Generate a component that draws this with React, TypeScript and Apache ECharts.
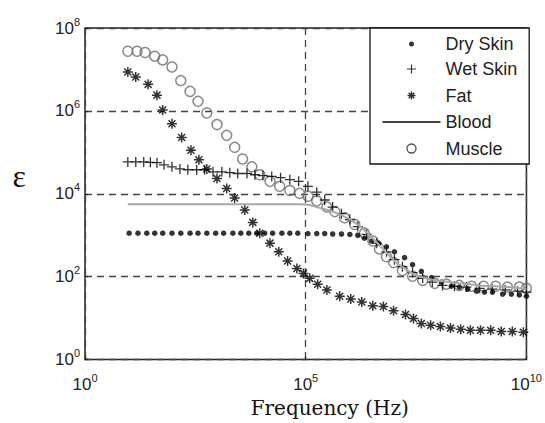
import React, { useEffect, useRef } from "react";
import * as echarts from "echarts";

// log10(frequency / Hz) and log10(permittivity)
const dryLogF = [1.0, 1.2, 1.4, 1.58, 1.76, 1.97, 2.17, 2.38, 2.56, 2.76, 2.96, 3.14, 3.35, 3.53, 3.71, 3.89, 4.07, 4.25, 4.46, 4.64, 4.82, 5.05, 5.25, 5.43, 5.61, 5.81, 6.0, 6.18, 6.33, 6.49, 6.65, 6.83, 7.01, 7.24, 7.42, 7.62, 7.85, 8.08, 8.3, 8.48, 8.67, 8.87, 9.05, 9.23, 9.46, 9.66, 9.84, 10.0];
const dryLogEps = [3.05, 3.05, 3.05, 3.05, 3.05, 3.05, 3.05, 3.05, 3.05, 3.05, 3.05, 3.05, 3.05, 3.05, 3.05, 3.05, 3.05, 3.05, 3.05, 3.05, 3.05, 3.04, 3.04, 3.04, 3.03, 3.03, 3.02, 3.0, 2.93, 2.86, 2.81, 2.72, 2.6, 2.46, 2.29, 2.13, 1.98, 1.87, 1.77, 1.75, 1.7, 1.65, 1.63, 1.63, 1.58, 1.58, 1.56, 1.53];

const wetLogF = [0.97, 1.15, 1.33, 1.48, 1.63, 1.79, 1.97, 2.15, 2.33, 2.53, 2.71, 2.9, 3.1, 3.28, 3.46, 3.67, 3.85, 4.03, 4.23, 4.43, 4.64, 4.84, 5.05, 5.25, 5.43, 5.61, 5.81, 6.0, 6.18, 6.38, 6.61, 6.83, 7.01, 7.19, 7.42, 7.65, 7.87, 8.1, 8.37, 8.64, 8.94, 9.23, 9.52, 9.8, 10.0];
const wetLogEps = [4.77, 4.77, 4.77, 4.76, 4.75, 4.7, 4.65, 4.6, 4.58, 4.58, 4.58, 4.53, 4.53, 4.51, 4.49, 4.49, 4.46, 4.44, 4.42, 4.39, 4.34, 4.3, 4.18, 4.04, 3.85, 3.68, 3.52, 3.38, 3.21, 3.02, 2.81, 2.6, 2.41, 2.24, 2.1, 1.96, 1.87, 1.79, 1.77, 1.75, 1.72, 1.7, 1.68, 1.65, 1.63];

const fatLogF = [0.97, 1.15, 1.43, 1.63, 1.76, 1.97, 2.19, 2.4, 2.58, 2.76, 2.99, 3.21, 3.39, 3.62, 3.8, 3.96, 4.19, 4.39, 4.59, 4.8, 4.95, 5.09, 5.27, 5.48, 5.77, 6.02, 6.27, 6.52, 6.76, 6.99, 7.26, 7.44, 7.62, 7.83, 8.05, 8.28, 8.51, 8.73, 8.96, 9.19, 9.43, 9.68, 9.93];
const fatLogEps = [6.94, 6.82, 6.64, 6.38, 6.02, 5.69, 5.36, 5.05, 4.82, 4.6, 4.37, 4.13, 3.9, 3.61, 3.31, 3.05, 2.81, 2.6, 2.38, 2.2, 2.08, 1.96, 1.82, 1.68, 1.53, 1.46, 1.39, 1.3, 1.28, 1.18, 1.09, 0.99, 0.87, 0.83, 0.8, 0.76, 0.73, 0.71, 0.71, 0.71, 0.68, 0.68, 0.66];

const bloodLogF = [0.97, 4.86, 5.09, 5.32, 5.61, 5.88, 6.11, 6.33, 6.56, 6.79, 7.01, 7.24, 7.47, 7.81, 8.26, 8.94, 9.62, 10.0];
const bloodLogEps = [3.75, 3.75, 3.73, 3.66, 3.57, 3.45, 3.31, 3.12, 2.88, 2.62, 2.38, 2.2, 2.05, 1.94, 1.87, 1.79, 1.75, 1.7];

const muscleLogF = [0.97, 1.18, 1.36, 1.58, 1.76, 1.97, 2.17, 2.38, 2.56, 2.76, 2.99, 3.21, 3.39, 3.57, 3.78, 3.96, 4.19, 4.41, 4.64, 4.86, 5.05, 5.25, 5.48, 5.66, 5.88, 6.11, 6.33, 6.52, 6.67, 6.83, 6.99, 7.19, 7.42, 7.65, 7.92, 8.19, 8.48, 8.76, 9.03, 9.3, 9.57, 9.84, 10.0];
const muscleLogEps = [7.44, 7.44, 7.41, 7.32, 7.23, 7.06, 6.73, 6.47, 6.23, 5.95, 5.67, 5.41, 5.12, 4.84, 4.65, 4.46, 4.3, 4.18, 4.08, 4.01, 3.94, 3.83, 3.68, 3.57, 3.42, 3.26, 3.05, 2.86, 2.67, 2.48, 2.34, 2.15, 2.01, 1.91, 1.84, 1.82, 1.79, 1.77, 1.77, 1.77, 1.75, 1.75, 1.72];

const xTickExponents = [0, 5, 10];
const yTickExponents = [0, 2, 4, 6, 8];

const seriesNames = ["Dry Skin", "Wet Skin", "Fat", "Blood", "Muscle"];

const zip = (a: number[], b: number[]) => a.map((v, i) => [v, b[i]]);

const SANS = "Liberation Sans, Arial, sans-serif";
const PLUS = "path://M5 0V10M0 5H10";
const STAR = "path://M5 0V10M0 5H10M1.5 1.5L8.5 8.5M8.5 1.5L1.5 8.5";

const tickRich = {
  b: { fontFamily: SANS, fontSize: 17, color: "#222", lineHeight: 24, verticalAlign: "middle" },
  s: { fontFamily: SANS, fontSize: 11, color: "#222", lineHeight: 12, verticalAlign: "top" },
};

export default function App() {
  const ref = useRef<HTMLDivElement>(null);
  useEffect(() => {
    if (!ref.current) return;
    const chart = echarts.init(ref.current, undefined, { renderer: "svg" });
    const splitLine = { show: true, lineStyle: { color: "#444", width: 1.3, type: [7, 5] } };
    const axisTick = { show: true, inside: true, length: 3, lineStyle: { color: "#222", width: 1.2 } };
    chart.setOption({
      animation: false,
      backgroundColor: "#fff",
      grid: { left: 85, top: 28, width: 443, height: 339, show: true, borderColor: "#222", borderWidth: 1.5, backgroundColor: "transparent" },
      xAxis: {
        type: "value", min: 0, max: 10, interval: 5,
        axisLine: { show: false }, axisTick, splitLine,
        axisLabel: {
          margin: 13, showMinLabel: true, showMaxLabel: true,
          formatter: (v: number) => (xTickExponents.includes(v) ? `{b|10}{s|${v}}` : ""),
          rich: tickRich,
        },
        name: "Frequency (Hz)", nameLocation: "middle", nameGap: 30,
        nameTextStyle: { fontFamily: "DejaVu Serif", fontSize: 20, color: "#111", padding: [0, 0, 0, 48] },
      },
      yAxis: {
        type: "value", min: 0, max: 8, interval: 2,
        axisLine: { show: false }, axisTick, splitLine,
        axisLabel: {
          margin: 5, showMinLabel: true, showMaxLabel: true,
          formatter: (v: number) => (yTickExponents.includes(v) ? `{b|10}{s|${v}}` : ""),
          rich: tickRich,
        },
        name: "ε", nameLocation: "middle", nameRotate: 0, nameGap: 59,
        nameTextStyle: { fontFamily: "Liberation Serif", fontSize: 32, color: "#111", verticalAlign: "bottom", lineHeight: 36 },
      },
      legend: {
        orient: "vertical", left: 370, top: 28,
        itemWidth: 58, itemHeight: 16, itemGap: 5.5,
        padding: [7, 12, 5, 10],
        backgroundColor: "#fff", borderColor: "#111", borderWidth: 1.3, borderRadius: 0,
        selectedMode: false,
        textStyle: { fontFamily: SANS, fontSize: 18, color: "#222" },
        data: [
          { name: seriesNames[0], icon: "path://M0 0M16 16M10.5 8A2.5 2.5 0 1 1 5.5 8A2.5 2.5 0 1 1 10.5 8Z", itemStyle: { color: "#000", borderWidth: 0 } },
          { name: seriesNames[1], icon: "path://M0 0M16 16M8 3.5V12.5M3.5 8H12.5", itemStyle: { color: "none", borderColor: "#000", borderWidth: 1.2 } },
          { name: seriesNames[2], icon: "path://M0 0M16 16M8 4V12M4 8H12M5.2 5.2L10.8 10.8M10.8 5.2L5.2 10.8", itemStyle: { color: "none", borderColor: "#000", borderWidth: 1.4 } },
          { name: seriesNames[3], icon: "path://M0 0M58 16M0 8H58", itemStyle: { color: "none", borderColor: "#000", borderWidth: 1.3 }, lineStyle: { color: "#000", width: 1.3 } },
          { name: seriesNames[4], icon: "path://M0 0M16 16M12.5 8A4.5 4.5 0 1 1 3.5 8A4.5 4.5 0 1 1 12.5 8Z", itemStyle: { color: "none", borderColor: "#222", borderWidth: 1.3 } },
        ],
      },
      series: [
        {
          name: seriesNames[4], type: "scatter", data: zip(muscleLogF, muscleLogEps),
          symbol: "circle", symbolSize: 10,
          itemStyle: { color: "rgba(255,255,255,0)", borderColor: "#6a6a6a", borderWidth: 1.5 },
        },
        {
          name: seriesNames[3], type: "line", data: zip(bloodLogF, bloodLogEps),
          symbol: "none", smooth: 0.3,
          lineStyle: { color: "#a8a8a8", width: 2 },
        },
        {
          name: seriesNames[0], type: "scatter", data: zip(dryLogF, dryLogEps),
          symbol: "circle", symbolSize: 5.5,
          itemStyle: { color: "#000" },
        },
        {
          name: seriesNames[1], type: "scatter", data: zip(wetLogF, wetLogEps),
          symbol: PLUS, symbolSize: 10,
          itemStyle: { color: "none", borderColor: "#000", borderWidth: 1.3 },
        },
        {
          name: seriesNames[2], type: "scatter", data: zip(fatLogF, fatLogEps),
          symbol: STAR, symbolSize: 10,
          itemStyle: { color: "none", borderColor: "#000", borderWidth: 1.5 },
        },
      ],
    });
    return () => chart.dispose();
  }, []);
  return <div ref={ref} style={{ position: "absolute", left: 0, top: 0, width: 545, height: 423 }} />;
}
